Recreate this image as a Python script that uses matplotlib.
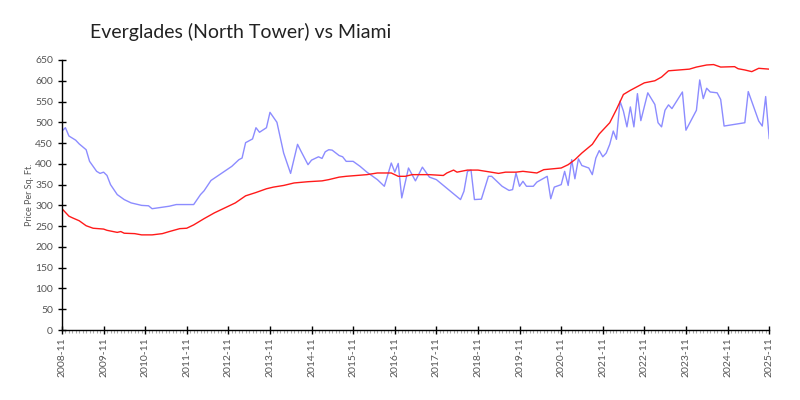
import matplotlib
matplotlib.use("Agg")
import matplotlib.pyplot as plt
import matplotlib.dates as mdates
import pandas as pd

# Everglades (North Tower) price per sq ft, by month
everglades_dates = [
    "2008-11", "2008-12", "2009-01", "2009-03", "2009-04", "2009-06", "2009-07", "2009-09",
    "2009-10", "2009-11", "2009-12", "2010-01", "2010-03", "2010-05", "2010-07", "2010-10",
    "2010-12", "2011-01", "2011-06", "2011-08", "2012-01", "2012-03", "2012-04", "2012-06",
    "2012-09", "2012-12", "2013-02", "2013-03", "2013-04", "2013-06", "2013-07", "2013-08",
    "2013-10", "2013-11", "2014-01", "2014-03", "2014-05", "2014-07", "2014-08", "2014-10",
    "2014-11", "2015-01", "2015-02", "2015-03", "2015-04", "2015-05", "2015-07", "2015-08",
    "2015-09", "2015-11", "2016-01", "2016-03", "2016-06", "2016-08", "2016-10", "2016-11",
    "2016-12", "2017-01", "2017-03", "2017-05", "2017-07", "2017-09", "2017-11", "2018-06",
    "2018-07", "2018-08", "2018-09", "2018-10", "2018-12", "2019-02", "2019-03", "2019-06",
    "2019-08", "2019-09", "2019-10", "2019-11", "2019-12", "2020-01", "2020-03", "2020-04",
    "2020-07", "2020-08", "2020-09", "2020-11", "2020-12", "2021-01", "2021-02", "2021-03",
    "2021-04", "2021-05", "2021-07", "2021-08", "2021-09", "2021-10", "2021-11", "2021-12",
    "2022-01", "2022-02", "2022-03", "2022-04", "2022-05", "2022-06", "2022-07", "2022-08",
    "2022-09", "2022-10", "2022-12", "2023-02", "2023-03", "2023-04", "2023-05", "2023-06",
    "2023-07", "2023-10", "2023-11", "2024-02", "2024-03", "2024-04", "2024-05", "2024-06",
    "2024-08", "2024-09", "2024-10", "2025-04", "2025-05", "2025-08", "2025-09", "2025-10",
    "2025-11",
]
everglades_price = [
    479, 487, 467, 457, 448, 434, 406, 382,
    377, 380, 372, 350, 326, 314, 306, 300,
    299, 292, 298, 302, 302, 326, 335, 360,
    377, 394, 410, 414, 451, 460, 487, 476,
    487, 524, 500, 426, 377, 447, 430, 398,
    409, 417, 413, 429, 434, 433, 420, 417,
    406, 406, 394, 380, 362, 346, 402, 380,
    401, 318, 390, 359, 392, 368, 362, 314,
    334, 382, 385, 314, 315, 370, 370, 346,
    336, 338, 378, 346, 358, 346, 346, 356,
    370, 316, 344, 350, 382, 348, 410, 364,
    412, 396, 390, 374, 414, 432, 417, 426,
    447, 479, 459, 551, 527, 489, 537, 489,
    569, 504, 571, 543, 499, 489, 529, 542,
    533, 573, 481, 529, 602, 557, 582, 573,
    571, 555, 491, 499, 574, 503, 491, 562,
    461,
]

# Miami price per sq ft
miami_dates = [
    "2008-11", "2009-01", "2009-02", "2009-04", "2009-06", "2009-08", "2009-11", "2009-12",
    "2010-03", "2010-04", "2010-05", "2010-08", "2010-10", "2011-01", "2011-04", "2011-06",
    "2011-09", "2011-11", "2012-01", "2012-04", "2012-07", "2012-10", "2013-01", "2013-04",
    "2013-07", "2013-10", "2013-12", "2014-03", "2014-06", "2014-10", "2015-02", "2015-04",
    "2015-07", "2015-09", "2015-12", "2016-03", "2016-06", "2016-10", "2016-12", "2017-02",
    "2017-04", "2017-09", "2018-01", "2018-02", "2018-04", "2018-05", "2018-08", "2018-11",
    "2019-02", "2019-05", "2019-07", "2019-10", "2019-12", "2020-04", "2020-06", "2020-11",
    "2021-01", "2021-03", "2021-05", "2021-08", "2021-10", "2022-01", "2022-03", "2022-05",
    "2022-07", "2022-11", "2023-02", "2023-04", "2023-06", "2023-12", "2024-02", "2024-05",
    "2024-07", "2024-09", "2025-01", "2025-02", "2025-04", "2025-06", "2025-08", "2025-11",
]
miami_price = [
    292, 274, 270, 263, 251, 245, 243, 240,
    235, 237, 233, 232, 229, 229, 232, 237,
    244, 245, 253, 268, 282, 294, 306, 323,
    331, 340, 344, 348, 354, 357, 359, 362,
    368, 370, 372, 374, 378, 378, 370, 370,
    374, 374, 372, 378, 385, 380, 385, 385,
    381, 377, 380, 380, 382, 378, 386, 390,
    398, 410, 426, 447, 472, 499, 531, 567,
    577, 595, 600, 609, 624, 628, 633, 638,
    639, 633, 634, 629, 626, 622, 630, 628,
]

y_ticks = list(range(0, 651, 50))

grey = "#555555"
plt.rcParams["font.family"] = ["Lato", "DejaVu Sans"]

fig = plt.figure(figsize=(8, 4), dpi=100)
ax = fig.add_axes([0.0775, 0.175, 0.884, 0.675])

ax.plot(pd.to_datetime(everglades_dates), everglades_price, color="#8c8cff", lw=1.0)
ax.plot(pd.to_datetime(miami_dates), miami_price, color="#ff1a1a", lw=1.0)

ax.set_xlim(pd.Timestamp("2008-11-01"), pd.Timestamp("2025-11-01"))
ax.set_ylim(0, 650)
ax.set_yticks(y_ticks)

ax.xaxis.set_major_locator(mdates.YearLocator(base=1, month=11))
ax.xaxis.set_major_formatter(mdates.DateFormatter("%Y-%m"))
ax.xaxis.set_minor_locator(mdates.MonthLocator())

for side in ("top", "right"):
    ax.spines[side].set_visible(False)
for side in ("left", "bottom"):
    ax.spines[side].set_linewidth(1.0)
    ax.spines[side].set_color("black")

ax.tick_params(axis="both", which="major", direction="inout", length=6, width=1,
               color="black", labelcolor=grey, labelsize=7.5)
ax.tick_params(axis="x", which="minor", direction="out", length=2.5, width=0.8, color="#aaaaaa")
ax.tick_params(axis="x", which="major", pad=2)
for lbl in ax.get_xticklabels():
    lbl.set_rotation(90)

ax.set_ylabel("Price Per Sq. Ft.", color=grey, fontsize=6.5, labelpad=1)

fig.text(0.1125, 0.905, "Everglades (North Tower) vs Miami", fontsize=14,
         fontweight="normal", color="#222222", ha="left", va="baseline")

fig.savefig("out.png", dpi=100, facecolor="white")
